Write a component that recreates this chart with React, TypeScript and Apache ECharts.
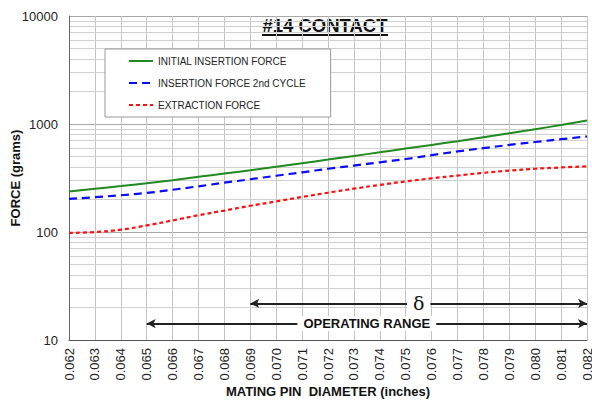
import React, { useEffect, useRef } from "react";
import * as echarts from "echarts";

const diameters = [0.062, 0.063, 0.064, 0.065, 0.066, 0.067, 0.068, 0.069, 0.070, 0.071, 0.072, 0.073, 0.074, 0.075, 0.076, 0.077, 0.078, 0.079, 0.080, 0.081, 0.082];
const initialInsertion = [237, 251, 266, 283, 302, 324, 348, 373, 402, 434, 468, 506, 547, 592, 640, 693, 753, 820, 895, 979, 1076];
const insertion2nd = [203, 210, 219, 230, 246, 265, 286, 308, 332, 357, 385, 412, 442, 474, 515, 557, 598, 640, 681, 723, 766];
const extraction = [98, 100, 105, 115, 128, 143, 158, 175, 192, 211, 231, 252, 273, 294, 314, 333, 353, 370, 385, 396, 406];
const minorGridValues = [20, 30, 40, 50, 60, 70, 80, 90, 200, 300, 400, 500, 600, 700, 800, 900, 2000, 3000, 4000, 5000, 6000, 7000, 8000, 9000];
const deltaRange = [0.069, 0.082];
const operatingRange = [0.065, 0.082];
const deltaLevel = 21.8;
const operatingLevel = 14.2;

const FONT = "'Liberation Sans', Arial, sans-serif";

export default function App() {
  const ref = useRef<HTMLDivElement>(null);
  useEffect(() => {
    if (!ref.current) return;
    const chart = echarts.init(ref.current, null, { renderer: "svg" });
    const toPairs = (arr: number[]) => diameters.map((d, i) => [d, arr[i]]);
    chart.setOption({
      animation: false,
      textStyle: { fontFamily: FONT },
      grid: { left: 69, right: 5, top: 16, bottom: 60, containLabel: false, outerBoundsMode: "none" },
      legend: {
        data: ["INITIAL INSERTION FORCE", "INSERTION FORCE 2nd CYCLE", "EXTRACTION FORCE"],
        orient: "vertical",
        left: 105,
        top: 49,
        backgroundColor: "#fff",
        borderColor: "#999",
        borderWidth: 1,
        padding: [7, 25, 7, 23],
        itemGap: 12,
        itemWidth: 24,
        itemHeight: 10,
        itemStyle: { opacity: 0 },
        textStyle: { fontSize: 10, color: "#222", fontFamily: FONT },
      },
      xAxis: {
        type: "value",
        min: 0.062,
        max: 0.082,
        interval: 0.001,
        name: "MATING PIN  DIAMETER (inches)",
        nameLocation: "middle",
        nameGap: 45,
        nameMoveOverlap: false,
        nameTextStyle: { fontSize: 13, fontWeight: "bold", color: "#111", fontFamily: FONT },
        axisLine: { lineStyle: { color: "#555", width: 1 } },
        axisTick: { show: false },
        axisLabel: {
          rotate: 90,
          margin: 8,
          fontSize: 13,
          color: "#222",
          fontFamily: FONT,
          formatter: (v: number) => v.toFixed(3),
        },
        splitLine: { show: true, lineStyle: { color: "#c4c4c4", width: 1 } },
      },
      yAxis: {
        type: "log",
        logBase: 10,
        min: 10,
        max: 10000,
        name: "FORCE (grams)",
        nameLocation: "middle",
        nameGap: 47,
        nameMoveOverlap: false,
        nameTextStyle: { fontSize: 13, fontWeight: "bold", color: "#111", fontFamily: FONT },
        axisLine: { show: true, lineStyle: { color: "#666", width: 1 } },
        axisTick: { show: false },
        axisLabel: {
          fontSize: 13,
          color: "#222",
          margin: 11,
          fontFamily: FONT,
          formatter: (v: number) => String(Math.round(v)),
        },
        splitLine: { show: true, lineStyle: { color: "#a8a8a8", width: 1 } },
        minorSplitLine: { show: false },
      },
      graphic: [
        {
          type: "group",
          z: 100,
          children: [
            { type: "rect", shape: { x: 258, y: 17, width: 135, height: 22 }, style: { fill: "#fff" } },
            {
              type: "text",
              x: 325,
              y: 16,
              style: {
                text: "#14 CONTACT",
                fill: "#111",
                fontSize: 18.5,
                fontWeight: "bold",
                fontFamily: FONT,
                align: "center",
                verticalAlign: "top",
              },
            },
            { type: "line", shape: { x1: 262, y1: 35, x2: 388, y2: 35 }, style: { stroke: "#111", lineWidth: 2 } },
          ],
        },
      ],
      series: [
        {
          name: "grid-minor",
          type: "line",
          data: [],
          silent: true,
          z: 0,
          markLine: {
            silent: true,
            symbol: "none",
            animation: false,
            z: 0,
            label: { show: false },
            lineStyle: { color: "#cfcfcf", width: 1, type: "solid" },
            data: minorGridValues.map((v) => ({ yAxis: v })),
          },
        },
        {
          name: "INITIAL INSERTION FORCE",
          type: "line",
          smooth: true,
          showSymbol: false,
          symbol: "none",
          z: 3,
          itemStyle: { color: "#1f8a1f" },
          lineStyle: { color: "#1f8a1f", width: 2, type: "solid" },
          data: toPairs(initialInsertion),
        },
        {
          name: "INSERTION FORCE 2nd CYCLE",
          type: "line",
          smooth: true,
          showSymbol: false,
          symbol: "none",
          z: 3,
          itemStyle: { color: "#0a0aff" },
          lineStyle: { color: "#0a0aff", width: 2.2, type: [8, 5] },
          data: toPairs(insertion2nd),
        },
        {
          name: "EXTRACTION FORCE",
          type: "line",
          smooth: true,
          showSymbol: false,
          symbol: "none",
          z: 3,
          itemStyle: { color: "#ff1010" },
          lineStyle: { color: "#ff1010", width: 2.2, type: [4, 3] },
          data: toPairs(extraction),
        },
        {
          name: "ranges",
          type: "line",
          data: [],
          silent: true,
          z: 4,
          markLine: {
            silent: true,
            animation: false,
            symbol: ["arrow", "arrow"],
            symbolSize: [7, 9],
            lineStyle: { color: "#222", width: 2, type: "solid" },
            data: [
              [
                {
                  coord: [deltaRange[0], deltaLevel],
                  label: {
                    show: true,
                    position: "insideMiddle",
                    formatter: "δ",
                    fontSize: 19,
                    fontFamily: "'DejaVu Serif', 'Liberation Serif', serif",
                    color: "#111",
                    backgroundColor: "#fff",
                    padding: [0, 6, 0, 6],
                  },
                },
                { coord: [deltaRange[1], deltaLevel] },
              ],
              [
                {
                  coord: [operatingRange[0], operatingLevel],
                  label: {
                    show: true,
                    position: "insideMiddle",
                    formatter: "OPERATING RANGE",
                    fontSize: 13,
                    fontWeight: "bold",
                    fontFamily: FONT,
                    color: "#111",
                    backgroundColor: "#fff",
                    padding: [1, 6, 1, 6],
                  },
                },
                { coord: [operatingRange[1], operatingLevel] },
              ],
            ],
          },
        },
      ],
    });
    return () => chart.dispose();
  }, []);
  return (
    <div
      ref={ref}
      style={{ position: "fixed", left: 0, top: 0, width: 592, height: 400, background: "#fff" }}
    />
  );
}
